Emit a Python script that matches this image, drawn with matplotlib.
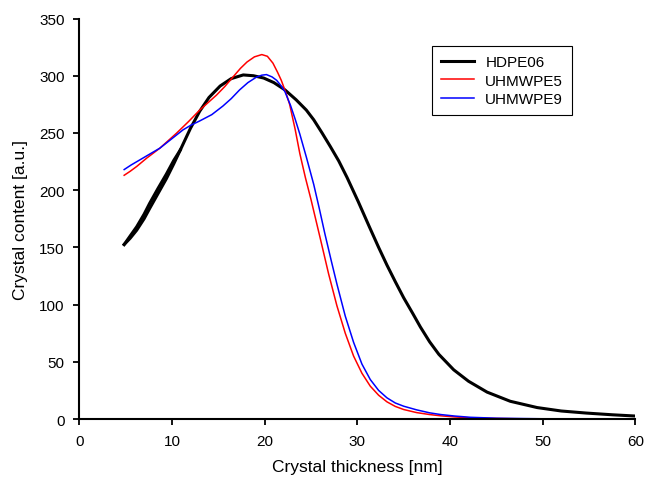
import matplotlib
matplotlib.use("Agg")
import matplotlib.pyplot as plt

plt.rcParams['font.family'] = ['Liberation Sans', 'DejaVu Sans']

# HDPE06 main curve
hdpe_x = [4.85, 5.5, 6.2, 7.0, 7.6, 8.5, 9.4, 10.2, 10.9, 12.0, 13.0, 14.0, 15.2, 16.4,
          17.7, 18.8, 19.9, 21.0, 22.2, 23.4, 24.5, 25.3, 26.2, 27.1, 28.0, 28.9, 30.1,
          31.3, 32.3, 33.2, 34.1, 35.0, 36.0, 36.8, 37.8, 38.8, 40.4, 42.0, 44.0, 46.5,
          49.4, 52.0, 54.7, 57.5, 60.0]
hdpe_y = [152.5, 158.0, 165.0, 175.0, 184.0, 197.0, 210.0, 223.0, 235.0, 254.0, 269.0,
          281.0, 291.0, 297.5, 300.7, 300.0, 298.0, 294.0, 287.6, 279.0, 270.0, 261.5,
          250.0, 238.0, 225.5, 211.0, 190.0, 168.0, 150.0, 134.5, 120.0, 106.0, 92.0,
          80.5, 67.5, 56.5, 43.0, 33.0, 23.5, 15.5, 10.0, 7.0, 5.2, 3.7, 2.6]
# HDPE06 second (return) branch near the start
hdpe_loop_x = [4.85, 5.5, 6.2, 7.0, 7.6, 8.5, 9.4, 10.2, 10.9]
hdpe_loop_y = [152.5, 160.0, 168.0, 179.0, 188.5, 201.5, 214.0, 226.0, 235.0]

# UHMWPE5
u5_x = [4.85, 5.5, 6.2, 7.28, 8.7, 10.5, 11.8, 13.0, 14.8, 15.7, 16.6, 17.4, 18.1, 18.9,
        19.7, 20.3, 20.9, 21.4, 21.8, 22.3, 22.7, 23.3, 23.8, 24.4, 25.0, 25.5, 26.0,
        26.9, 27.8, 28.7, 29.6, 30.5, 31.4, 32.3, 33.2, 34.1, 35.0, 36.4, 37.8, 39.0,
        40.5, 42.0, 44.0, 47.0, 50.0, 55.0, 60.0]
u5_y = [213.0, 216.5, 220.7, 228.0, 236.7, 249.8, 260.0, 270.0, 283.0, 290.5, 299.0,
        306.5, 312.0, 316.5, 318.5, 317.0, 311.0, 303.0, 296.0, 285.0, 275.0, 253.0,
        232.0, 211.0, 192.0, 175.0, 158.0, 127.0, 99.0, 75.0, 55.0, 40.0, 28.7, 20.8,
        15.0, 11.0, 8.3, 5.6, 3.9, 2.8, 1.8, 1.1, 0.6, 0.25, 0.1, 0.03, 0.0]

# UHMWPE9
u9_x = [4.85, 5.6, 6.55, 7.6, 8.7, 10.0, 11.2, 12.1, 13.0, 14.3, 15.5, 16.4, 17.3, 18.2,
        19.1, 19.7, 20.2, 20.8, 21.3, 21.8, 22.2, 22.8, 23.3, 23.8, 24.5, 25.3, 25.9,
        26.5, 27.2, 27.8, 28.7, 29.6, 30.5, 31.4, 32.3, 33.2, 34.1, 35.0, 36.4, 37.8,
        39.0, 40.5, 42.2, 45.0, 50.0, 55.0, 60.0]
u9_y = [218.0, 222.0, 226.5, 231.5, 236.7, 245.0, 252.7, 257.0, 260.5, 266.0, 273.5,
        280.0, 287.6, 294.0, 298.7, 300.5, 301.0, 299.0, 296.0, 291.0, 286.0, 274.0,
        262.0, 249.0, 229.0, 205.0, 184.0, 162.0, 138.0, 118.0, 90.0, 67.0, 48.0, 34.5,
        25.0, 18.5, 14.0, 11.2, 8.0, 5.4, 3.9, 2.6, 1.5, 0.7, 0.2, 0.05, 0.0]

series_labels = ["HDPE06", "UHMWPE5", "UHMWPE9"]
xticks = [0, 10, 20, 30, 40, 50, 60]
yticks = [0, 50, 100, 150, 200, 250, 300, 350]

fig = plt.figure(figsize=(6.45, 4.81), dpi=100)
ax = fig.add_axes([0.1228, 0.1268, 0.8623, 0.8326])

ax.plot(hdpe_x, hdpe_y, color='black', lw=2.2, label=series_labels[0],
        solid_joinstyle='round')
ax.plot(hdpe_loop_x, hdpe_loop_y, color='black', lw=2.2, solid_joinstyle='round')
ax.plot(u5_x, u5_y, color='#ff0000', lw=1.1, label=series_labels[1])
ax.plot(u9_x, u9_y, color='#0000ff', lw=1.1, label=series_labels[2])

ax.set_xlim(0, 60)
ax.set_ylim(0, 350)
ax.set_xticks(xticks)
ax.set_yticks(yticks)
ax.spines['top'].set_visible(False)
ax.spines['right'].set_visible(False)
ax.spines['left'].set_linewidth(1.5)
ax.spines['bottom'].set_linewidth(1.5)
ax.tick_params(direction='out', length=4.5, width=1.3, labelsize=11, pad=6)

ax.set_xlabel("Crystal thickness [nm]", fontsize=12.5, labelpad=8)
ax.set_ylabel("Crystal content [a.u.]", fontsize=12.5, labelpad=8)

leg = ax.legend(loc='upper left', bbox_to_anchor=(0.634, 0.931), borderaxespad=0,
                fontsize=11, frameon=True, fancybox=False, edgecolor='black',
                framealpha=1, handlelength=2.15, handletextpad=0.75,
                borderpad=0.6, labelspacing=0.28)
leg.get_frame().set_linewidth(0.8)

fig.savefig("out.png", dpi=100)
